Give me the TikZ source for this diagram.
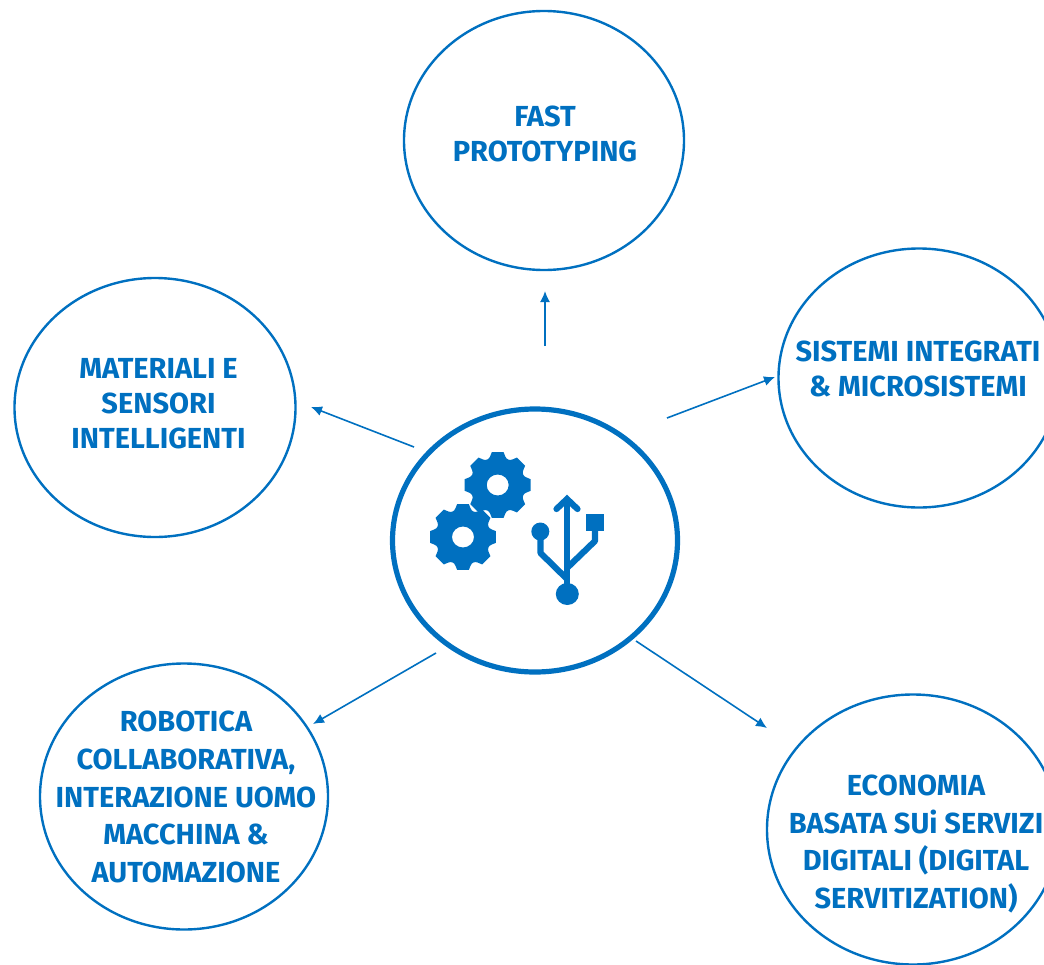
\documentclass[tikz,border=0pt]{standalone}
\usepackage{fontspec}
\setmainfont{Fira Sans}
\usetikzlibrary{shapes.geometric,arrows.meta}
\definecolor{bl}{HTML}{0070C0}
\newcommand{\gearpath}{%
  \fill[bl,even odd rule] (-10:33.5) 
  \foreach \a in {0,45,...,315}{
    -- (\a-10:33.5) -- (\a+10:33.5) -- (\a+15:29.5)
    .. controls (\a+19:27) and (\a+26:27) .. (\a+30:29.5)
    -- (\a+35:33.5)
  } -- cycle
  (11,0) arc[x radius=11,y radius=10.5,start angle=0,end angle=360];
}
\tikzset{
  x=1pt,y=-1pt,
  topic/.style={draw=bl,line width=2.4pt,ellipse,inner sep=0pt},
  hub/.style={draw=bl,line width=5.2pt,ellipse,inner sep=0pt},
  lab/.style={text=bl,align=center,inner sep=0pt,font=\fontsize{29}{35}\selectfont\bfseries},
  labb/.style={lab,font=\fontsize{29}{37.8}\selectfont\bfseries},
  link/.style={draw=bl,line width=1.6pt,-{Latex[length=11pt,width=10pt]}},
  usb/.style={draw=bl,line width=6.2pt}
}
\begin{document}
\begin{tikzpicture}
\useasboundingbox (0,0) rectangle (1044,964);
\clip (0,0) rectangle (1044,964);
\node[topic,minimum width=280pt,minimum height=259pt] (top) at (544,140.5) {};
\node[topic,minimum width=281pt,minimum height=259pt] (right) at (919,378) {};
\node[topic,minimum width=281pt,minimum height=259pt] (left) at (155,407.5) {};
\node[topic,minimum width=288pt,minimum height=266pt] (bl) at (184,796.5) {};
\node[topic,minimum width=292pt,minimum height=270pt] (br) at (913,829.5) {};
\node[hub,minimum width=285pt,minimum height=263pt] (hub) at (535,540.5) {};
\node[lab] (ltop) at (545,134) {FAST\\PROTOTYPING};
\node[lab] (lright) at (918,369) {SISTEMI INTEGRATI\\\& MICROSISTEMI};
\node[lab] (lleft) at (158.5,403.5) {MATERIALI E\\SENSORI\\INTELLIGENTI};
\node[labb] (lbl) at (186,797) {ROBOTICA\\COLLABORATIVA,\\INTERAZIONE UOMO\\MACCHINA \&\\AUTOMAZIONE};
\node[labb] (lbr) at (916,844) {ECONOMIA\\BASATA SUi SERVIZI\\DIGITALI (DIGITAL\\SERVITIZATION)};
\coordinate (a1) at (545,346); \coordinate (b1) at (545,291);
\coordinate (a2) at (667,418); \coordinate (b2) at (775,377);
\coordinate (a3) at (414,447); \coordinate (b3) at (311,407);
\coordinate (a4) at (436,653); \coordinate (b4) at (313,724);
\coordinate (a5) at (636,641); \coordinate (b5) at (767,728);
\draw[link] (a1) -- (b1);
\draw[link] (a2) -- (b2);
\draw[link] (a3) -- (b3);
\draw[link] (a4) -- (b4);
\draw[link] (a5) -- (b5);
\begin{scope}[shift={(497.7,485)}]\gearpath\end{scope}
\begin{scope}[shift={(463,537)}]\gearpath\end{scope}
\draw[usb] (567,500) -- (567,590);
\draw[usb,line cap=round,line join=miter] (556.5,509) -- (567,499) -- (577.5,509);
\draw[usb,line join=bevel] (540.5,535) -- (540.5,553) -- (567,579);
\draw[usb,line join=bevel] (595,528) -- (595,541) -- (567,568);
\fill[bl] (540.3,531.5) circle[radius=9];
\fill[bl] (567.3,594) ellipse[x radius=11.5,y radius=11];
\fill[bl] (586,514) rectangle (604,531);
\end{tikzpicture}
\end{document}
